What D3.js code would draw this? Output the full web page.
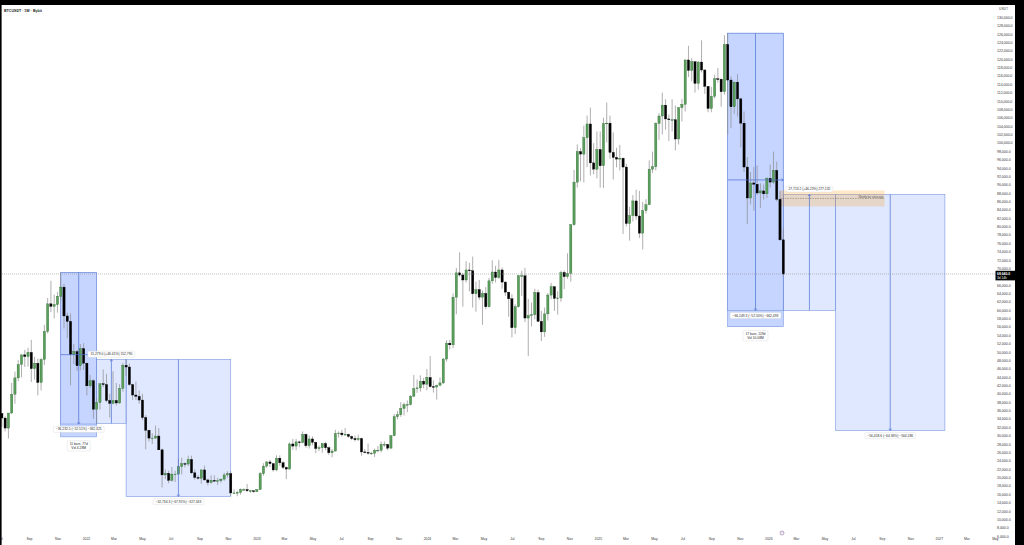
<!DOCTYPE html>
<html>
<head>
<meta charset="utf-8">
<script src="https://cdn.jsdelivr.net/npm/d3@7"></script>
<style>
  body { margin: 0; background: #fff; }
  svg { display: block; }
</style>
</head>
<body>
<div id="chart"></div>
<script>
// Weekly BTCUSDT bars, values in thousands of USDT: [high, low, close]
// open of each bar = close of the bar before
var firstBarDate = "2021-06-28";
var firstOpenK = 34.5;

var bars2021 = [
  [36.6,32.7,35.3],[35.1,32.1,34.2],[34.6,31.0,31.8],[35.4,29.3,35.4],[42.6,35.2,39.9],
  [45.3,37.6,43.8],[48.1,43.0,47.0],[49.4,43.9,49.3],[50.5,46.4,48.9],[51.0,46.5,49.9],
  [52.9,42.8,46.0],[48.8,43.4,47.3],[48.4,39.6,42.7],[48.5,40.8,48.2],[56.5,46.9,54.9],
  [62.9,54.4,61.5],[67.0,59.5,60.9],[63.7,58.0,61.3],[64.3,59.4,63.3],[69.0,62.3,65.5],
  [66.3,55.6,58.6],[59.4,53.3,57.3],[59.2,42.0,49.4],[51.9,47.1,50.1],[50.5,45.5,46.7],
  [51.9,45.6,50.8],[52.1,45.7,47.3]
];
var bars2022 = [
  [47.5,39.6,41.9],[44.5,41.3,43.1],[43.5,34.0,36.3],[38.9,32.9,37.9],[42.5,36.2,42.4],
  [45.8,41.6,42.2],[44.8,38.0,38.4],[40.0,34.3,37.7],[45.4,37.5,38.4],[42.6,37.2,37.8],
  [42.3,37.6,41.3],[47.4,40.5,46.8],[48.2,44.2,46.4],[47.2,41.9,42.2],[42.4,38.5,39.7],
  [42.9,38.5,39.4],[40.8,37.6,38.5],[40.0,33.7,34.3],[34.9,26.7,31.3],[31.0,28.6,29.4],
  [30.6,28.0,29.4],[32.4,29.3,29.9],[31.8,26.6,26.6],[26.9,17.6,20.6],[21.9,19.6,21.0],
  [21.6,18.6,19.3],[22.5,19.0,20.8],[21.6,18.9,20.8],[24.3,20.8,22.6],[24.7,20.7,23.3],
  [23.6,22.4,23.2],[25.2,22.7,24.3],[25.2,20.8,21.1],[21.9,19.5,20.0],[20.6,19.5,19.8],
  [21.9,18.5,21.8],[22.8,19.3,19.4],[19.7,18.1,18.8],[20.5,18.5,19.3],[20.5,19.0,19.1],
  [19.9,18.2,19.2],[19.7,18.7,19.6],[21.1,19.2,20.6],[21.5,20.0,20.9],[21.5,15.6,16.3],
  [17.2,16.2,16.3],[16.8,15.5,16.4],[17.4,15.9,17.1],[17.4,16.8,17.1],[18.4,16.5,16.8],
  [17.0,16.3,16.8],[16.9,16.3,16.6]
];
var bars2023 = [
  [17.2,16.5,17.1],[21.3,17.1,20.9],[23.4,20.4,22.7],[23.9,22.3,23.7],[24.2,22.5,23.3],
  [23.4,21.4,21.8],[25.3,21.5,24.6],[25.3,22.8,23.5],[23.9,22.0,22.4],[22.6,19.6,22.0],
  [28.4,21.9,28.0],[29.2,26.6,27.5],[29.2,26.5,28.5],[28.8,27.2,28.3],[31.0,28.2,30.3],
  [30.5,27.1,27.6],[30.0,26.9,29.2],[29.8,27.7,28.4],[28.5,25.8,26.9],[27.6,26.3,27.1],
  [28.2,25.9,28.1],[28.5,26.5,27.1],[27.4,25.4,25.9],[26.8,24.8,26.3],[31.4,26.2,30.5],
  [31.0,29.5,30.6],[31.4,29.7,30.2],[31.8,30.0,30.3],[30.4,29.5,29.8],[30.0,28.9,29.3],
  [30.0,28.6,29.0],[30.2,28.7,29.3],[29.5,25.2,26.1],[26.8,25.8,26.0],[28.1,25.4,25.8],
  [26.1,25.4,25.8],[26.9,24.9,26.5],[27.5,26.0,26.5],[28.6,26.0,27.9],[28.6,27.3,27.9],
  [28.0,26.5,27.0],[30.0,26.9,30.0],[35.2,29.8,34.5],[35.9,33.9,35.0],[38.0,34.5,36.5],
  [37.9,34.8,37.4],[38.4,35.6,37.4],[39.7,37.2,39.4],[44.5,39.3,41.2],[43.4,40.2,41.4],
  [44.4,40.5,43.0],[43.8,41.3,42.3]
];
var bars2024 = [
  [45.9,40.8,43.9],[49.0,41.5,41.7],[43.2,40.3,41.6],[42.2,38.6,42.0],[43.9,41.9,42.6],
  [48.6,42.3,48.3],[52.8,47.7,52.1],[52.9,50.6,51.7],[64.0,50.9,63.1],[70.1,59.0,68.9],
  [73.8,68.0,68.4],[68.9,60.8,67.2],[71.7,66.6,69.6],[71.3,64.5,69.4],[72.8,60.6,63.9],
  [66.8,59.6,64.9],[67.2,62.4,63.1],[64.7,56.5,64.0],[65.5,60.2,60.8],[67.7,60.6,67.0],
  [71.9,66.3,69.1],[70.6,66.6,67.8],[72.0,67.5,69.6],[70.2,65.1,66.7],[66.9,63.4,64.3],
  [63.4,58.4,62.7],[63.8,53.5,55.8],[61.4,54.3,60.8],[68.4,60.6,68.2],[69.4,63.4,68.2],
  [70.1,57.1,58.1],[62.7,49.0,58.7],[61.8,56.1,58.9],[65.1,57.8,64.2],[64.9,57.2,57.3],
  [59.8,52.6,54.8],[60.6,53.6,59.1],[64.1,57.5,63.6],[66.5,62.6,65.6],[65.5,59.8,62.8],
  [64.5,58.9,62.9],[69.4,62.0,69.0],[69.5,65.0,68.0],[73.6,67.5,68.8],[80.5,66.8,80.4],
  [93.5,80.2,90.6],[99.6,89.3,97.9],[98.7,90.8,97.3],[104.1,90.5,101.2],[106.5,94.2,104.5],
  [108.4,92.2,95.2],[99.9,92.5,93.7],[102.7,91.5,98.4]
];
var bars2025 = [
  [102.7,89.3,94.5],[106.0,89.2,104.6],[109.6,100.1,104.7],[106.5,96.2,97.7],[102.5,91.2,96.5],
  [98.8,94.1,96.1],[99.5,93.4,96.3],[96.5,78.2,94.2],[95.0,80.0,80.7],[84.7,76.6,82.6],
  [87.5,81.2,86.1],[88.8,81.6,82.5],[88.5,77.2,78.4],[85.9,74.5,83.8],[86.5,83.1,85.2],
  [95.8,85.1,93.7],[97.9,92.8,94.3],[104.9,93.4,104.6],[107.1,100.7,106.4],[112.0,102.0,109.0],
  [110.4,103.1,105.7],[106.8,100.4,105.5],[110.4,102.7,105.5],[108.9,98.2,100.9],[108.5,99.6,108.4],
  [110.5,105.1,109.2],[119.9,107.5,119.8],[123.2,115.7,117.3],[120.2,114.7,119.4],[119.3,112.0,114.2],
  [119.5,112.7,119.3],[124.5,116.8,117.4],[117.6,111.7,113.5],[113.4,107.3,108.2],[113.4,107.3,111.1],
  [116.3,110.6,115.3],[117.9,114.4,115.2],[115.4,108.6,112.2],[125.7,111.5,123.5],[126.2,102.0,115.0],
  [115.9,103.5,108.6],[114.6,106.9,114.5],[116.4,106.3,110.5],[110.8,98.9,104.7],[107.5,93.0,94.2],
  [96.6,80.6,86.8],[93.0,85.3,90.4],[94.2,83.8,90.1],[94.6,87.5,88.0],[90.3,84.4,88.5],
  [90.0,86.4,87.8],[91.8,86.8,91.5]
];
var bars2026 = [
  [94.8,89.3,90.6],[97.9,90.2,93.4],[95.5,86.0,86.5],[88.5,76.5,76.8],[79.5,68.0,68.64]
];

var lastPrice = 68640;
var lastCountdown = "3d 14h";

// Date ranges: [from, to, top price, bottom price, bars text, volume text]
var dateRanges = [
  ["2021-11-08", "2022-01-24", 69000, 29700, "11 bars, 77d", "Vol 4.28M"],
  ["2025-10-06", "2026-02-02", 126200, 56050, "17 bars, 119d", "Vol 10.08M"]
];
// Price ranges: [from, to, start price, end price, filled]
var priceRanges = [
  ["2021-11-08", "2022-01-24", 69000, 32767.5, false],
  ["2022-01-24", "2022-03-28", 32921, 48200, true],
  ["2022-03-28", "2022-11-07", 48200, 15465.7, true],
  ["2025-10-06", "2026-02-02", 126200, 59950.7, false],
  ["2026-02-02", "2026-05-25", 59950.7, 87663.9, true],
  ["2026-05-25", "2027-01-14", 87663.9, 31245.3, true]
];
// Fair value gap zone: [from, to, top, bottom, text]
var gapZone = ["2026-01-26", "2026-09-07", 88600, 84800, "Weekly fair value gap"];

var yTicks = d3.range(6000, 130001, 2000);
var xTicks = d3.utcMonth.range(new Date("2021-07-01"), new Date("2027-06-01"), 2);

var W = 1024, H = 545;
var font = "'Liberation Sans', Arial, sans-serif";

var svg = d3.select("#chart").append("svg")
    .attr("width", W).attr("height", H)
    .style("font-family", font);

svg.append("rect").attr("width", W).attr("height", H).attr("fill", "#fff");

// scales
var x = d3.scaleUtc()
    .domain([new Date("2021-07-01"), new Date("2027-05-12")])
    .range([0, 1000]);
var y = d3.scaleLinear().domain([6000, 130000]).range([536, 17.3]);

var weekPx = x(new Date("2022-01-08")) - x(new Date("2022-01-01"));
var bodyW = weekPx * 0.68;

// build candles
var allBars = [].concat(bars2021, bars2022, bars2023, bars2024, bars2025, bars2026);
var t0 = new Date(firstBarDate);
var prevClose = firstOpenK;
var candles = allBars.map(function(b, i) {
    var o = prevClose;
    prevClose = b[2];
    return {
        date: d3.utcDay.offset(t0, 7 * i),
        open: o * 1000,
        high: Math.max(b[0], o, b[2]) * 1000,
        low: Math.min(b[1], o, b[2]) * 1000,
        close: b[2] * 1000
    };
});

svg.append("clipPath").attr("id", "plot")
  .append("rect").attr("x", 0).attr("y", 5).attr("width", 995).attr("height", 535);

var plot = svg.append("g").attr("clip-path", "url(#plot)");

var darkFill = "rgba(41,98,255,0.27)";
var lightFill = "rgba(41,98,255,0.15)";
var edge = "#7a96e0";
var arrowCol = "#4d70cf";

// date range boxes
dateRanges.forEach(function(d) {
    plot.append("rect")
        .attr("x", x(new Date(d[0])))
        .attr("y", y(d[2]))
        .attr("width", x(new Date(d[1])) - x(new Date(d[0])))
        .attr("height", y(d[3]) - y(d[2]))
        .attr("fill", darkFill)
        .attr("stroke", edge)
        .attr("stroke-width", 0.6);
});

// price range boxes
priceRanges.forEach(function(d) {
    var x0 = x(new Date(d[0])), x1 = x(new Date(d[1]));
    var ya = y(Math.max(d[2], d[3])), yb = y(Math.min(d[2], d[3]));
    plot.append("rect")
        .attr("x", x0).attr("y", ya)
        .attr("width", x1 - x0).attr("height", yb - ya)
        .attr("fill", d[4] ? lightFill : "none")
        .attr("stroke", edge)
        .attr("stroke-width", 0.6);
});

// gap zone
(function() {
    var x0 = x(new Date(gapZone[0])), x1 = x(new Date(gapZone[1]));
    var ya = y(gapZone[2]), yb = y(gapZone[3]);
    plot.append("rect")
        .attr("x", x0).attr("y", ya).attr("width", x1 - x0).attr("height", yb - ya)
        .attr("fill", "rgba(255,152,0,0.22)");
    var ym = (ya + yb) / 2;
    plot.append("line")
        .attr("x1", x0).attr("x2", x1).attr("y1", ym).attr("y2", ym)
        .attr("stroke", "#6b6b6b").attr("stroke-width", 0.5)
        .attr("stroke-dasharray", "1.5,1");
    plot.append("text")
        .attr("x", x1 - 1.5).attr("y", ym - 0.6)
        .attr("text-anchor", "end")
        .attr("font-size", 2.6).attr("fill", "#555")
        .text(gapZone[4]);
})();

// candles
var cg = plot.append("g");
cg.selectAll("line.wick").data(candles).enter().append("line")
    .attr("class", "wick")
    .attr("x1", function(d) { return x(d.date); })
    .attr("x2", function(d) { return x(d.date); })
    .attr("y1", function(d) { return y(d.high); })
    .attr("y2", function(d) { return y(d.low); })
    .attr("stroke", "#8c8c8c")
    .attr("stroke-width", 0.7);

cg.selectAll("rect.body").data(candles).enter().append("rect")
    .attr("class", "body")
    .attr("x", function(d) { return x(d.date) - bodyW / 2; })
    .attr("width", bodyW)
    .attr("y", function(d) { return y(Math.max(d.open, d.close)); })
    .attr("height", function(d) { return Math.max(0.7, Math.abs(y(d.open) - y(d.close))); })
    .attr("fill", function(d) { return d.close >= d.open ? "#5a9e5c" : "#000"; })
    .attr("stroke", function(d) { return d.close >= d.open ? "#2f6a31" : "#000"; })
    .attr("stroke-width", 0.35);

// arrows
function arrow(g, x1, y1, x2, y2) {
    g.append("line")
        .attr("x1", x1).attr("y1", y1).attr("x2", x2).attr("y2", y2)
        .attr("stroke", arrowCol).attr("stroke-width", 0.7);
    var a = Math.atan2(y2 - y1, x2 - x1), s = 2.2;
    var p = [
        [x2 - s * Math.cos(a - 0.6), y2 - s * Math.sin(a - 0.6)],
        [x2, y2],
        [x2 - s * Math.cos(a + 0.6), y2 - s * Math.sin(a + 0.6)]
    ];
    g.append("path").attr("d", d3.line()(p))
        .attr("fill", "none").attr("stroke", arrowCol).attr("stroke-width", 0.7);
}

var ag = svg.append("g").attr("clip-path", "url(#plot)");

dateRanges.forEach(function(d) {
    var x0 = x(new Date(d[0])), x1 = x(new Date(d[1]));
    var ym = (y(d[2]) + y(d[3])) / 2;
    arrow(ag, x0, ym, x1, ym);
});
priceRanges.forEach(function(d) {
    var xm = (x(new Date(d[0])) + x(new Date(d[1]))) / 2;
    arrow(ag, xm, y(d[2]), xm, y(d[3]));
});

// measure labels
function tag(g, cx, cy, lines) {
    var lh = 4.4;
    var lg = g.append("g");
    var bg = lg.append("rect");
    var maxW = 0;
    lines.forEach(function(t, i) {
        var tx = lg.append("text")
            .attr("x", cx)
            .attr("y", cy + (i - (lines.length - 1) / 2) * lh + 1.1)
            .attr("text-anchor", "middle")
            .attr("font-size", 3.3)
            .attr("fill", "#2a2a2a")
            .text(t);
        maxW = Math.max(maxW, tx.node().getComputedTextLength());
    });
    var h = lines.length * lh + 1.6;
    bg.attr("x", cx - maxW / 2 - 2.5).attr("y", cy - h / 2)
        .attr("width", maxW + 5).attr("height", h)
        .attr("rx", 1)
        .attr("fill", "#fff")
        .attr("stroke", "#d6d6d6").attr("stroke-width", 0.4);
}

var fmtPrice = d3.format(",.1f");
var fmtPct = d3.format("+.2f");
var fmtTicks = d3.format(",d");

priceRanges.forEach(function(d) {
    var xm = (x(new Date(d[0])) + x(new Date(d[1]))) / 2;
    var diff = d[3] - d[2];
    var pct = diff / d[2] * 100;
    var txt = fmtPrice(diff) + " (" + fmtPct(pct) + "%) " + fmtTicks(Math.round(diff * 10));
    var cy = diff < 0 ? y(d[3]) + 5.3 : y(d[3]) - 5.3;
    tag(svg, xm, cy, [txt]);
});
dateRanges.forEach(function(d) {
    var xm = (x(new Date(d[0])) + x(new Date(d[1]))) / 2;
    tag(svg, xm, y(d[3]) + 9, [d[4], d[5]]);
});

// last price line
svg.append("line")
    .attr("x1", 0).attr("x2", 995)
    .attr("y1", y(lastPrice)).attr("y2", y(lastPrice))
    .attr("stroke", "#8f8f8f").attr("stroke-width", 0.6)
    .attr("stroke-dasharray", "1,1");

// price axis (the tick hidden behind the last-price tag is left out)
var ly = y(lastPrice);
var yAxis = d3.axisRight(y)
    .tickValues(yTicks.filter(function(v) { return Math.abs(y(v) - ly) > 5; }))
    .tickSize(0).tickPadding(0)
    .tickFormat(function(d) { return fmtPrice(d); });
var yg = svg.append("g").attr("transform", "translate(997,0)").call(yAxis);
yg.select(".domain").remove();
yg.selectAll("text").attr("font-size", 3.5).attr("fill", "#333").attr("font-family", font);

svg.append("text").attr("x", 999).attr("y", 10).attr("font-size", 3.3)
    .attr("fill", "#444").text("USDT");

// last price tag
svg.append("rect").attr("x", 995.5).attr("y", ly - 3.2).attr("width", 19.5).attr("height", 9.6)
    .attr("fill", "#000");
svg.append("text").attr("x", 997).attr("y", ly + 0.9).attr("font-size", 3.4)
    .attr("font-weight", "bold").attr("fill", "#fff").text(fmtPrice(lastPrice));
svg.append("text").attr("x", 997).attr("y", ly + 5.2).attr("font-size", 3.2)
    .attr("fill", "#fff").text(lastCountdown);

// time axis
var xAxis = d3.axisBottom(x).tickValues(xTicks).tickSize(0).tickPadding(0)
    .tickFormat(function(d) {
        return d.getUTCMonth() === 0 ? d3.utcFormat("%Y")(d) : d3.utcFormat("%b")(d);
    });
var xg = svg.append("g").attr("transform", "translate(0,537.5)").call(xAxis);
xg.select(".domain").remove();
xg.selectAll("text").attr("font-size", 3.4).attr("fill", "#333").attr("font-family", font);

// title
svg.append("text").attr("x", 4).attr("y", 11.5)
    .attr("font-size", 3.6).attr("font-weight", "bold").attr("fill", "#222")
    .text("BTCUSDT \u00b7 1W \u00b7 Bybit");

// small time-zone icon
svg.append("circle").attr("cx", 782).attr("cy", 533).attr("r", 2)
    .attr("fill", "none").attr("stroke", "#8a6d9e").attr("stroke-width", 0.6);
svg.append("line").attr("x1", 782).attr("x2", 782).attr("y1", 531.8).attr("y2", 533.4)
    .attr("stroke", "#8a6d9e").attr("stroke-width", 0.5);

// black frame
svg.append("rect").attr("x", 0).attr("y", 0).attr("width", W).attr("height", 5).attr("fill", "#000");
svg.append("rect").attr("x", 1015).attr("y", 0).attr("width", 9).attr("height", H).attr("fill", "#000");
svg.append("rect").attr("x", 0).attr("y", 0).attr("width", 1.6).attr("height", H).attr("fill", "#000");
</script>
</body>
</html>
